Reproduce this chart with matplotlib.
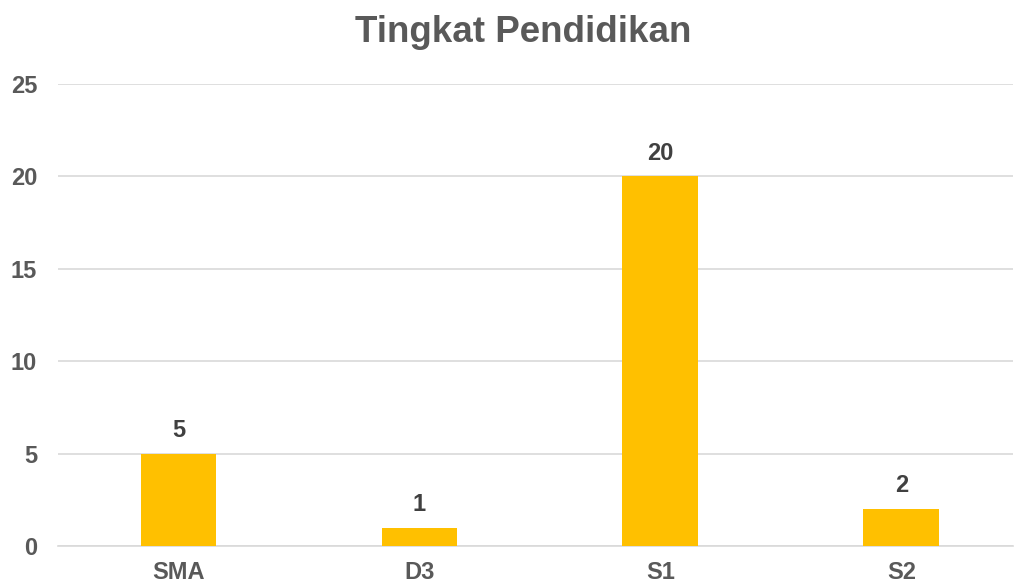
import matplotlib
matplotlib.use("Agg")
import matplotlib.pyplot as plt

categories = ["SMA", "D3", "S1", "S2"]
values = [5, 1, 20, 2]
yticks = [0, 5, 10, 15, 20, 25]

plt.rcParams['font.family'] = ['Liberation Sans', 'DejaVu Sans']
fig = plt.figure(figsize=(10.15, 5.85), dpi=100)
ax = fig.add_axes([58/1015, 1-546/585, (1013-58)/1015, (546-84)/585])

x = list(range(len(categories)))
bars = ax.bar(x, values, width=0.315, color="#FFC000", zorder=3)
ax.set_xlim(-0.5, 3.463)
ax.set_ylim(0, 25)
ax.set_yticks(yticks)
ax.set_xticks(x)
ax.set_xticklabels(categories)
ax.grid(axis='y', color="#D9D9D9", linewidth=1.2, zorder=0)
for s in ['top', 'right', 'left']:
    ax.spines[s].set_visible(False)
ax.spines['bottom'].set_color("#D9D9D9")
ax.spines['bottom'].set_linewidth(1.2)
ax.tick_params(length=0, labelsize=17, labelcolor="#595959")
ax.tick_params(axis='y', pad=15)
ax.tick_params(axis='x', pad=11)
for lab in ax.get_xticklabels() + ax.get_yticklabels():
    lab.set_fontweight('bold')
for xi, v in zip(x, values):
    ax.annotate(str(v), (xi, v), xytext=(0, 12), textcoords='offset points',
                ha='center', va='baseline', fontsize=17, fontweight='bold', color="#404040")
fig.text(523/1015, 1-42/585, "Tingkat Pendidikan", ha='center', va='baseline',
         fontsize=26.5, fontweight='bold', color="#595959")
fig.savefig("out.png", dpi=100)
